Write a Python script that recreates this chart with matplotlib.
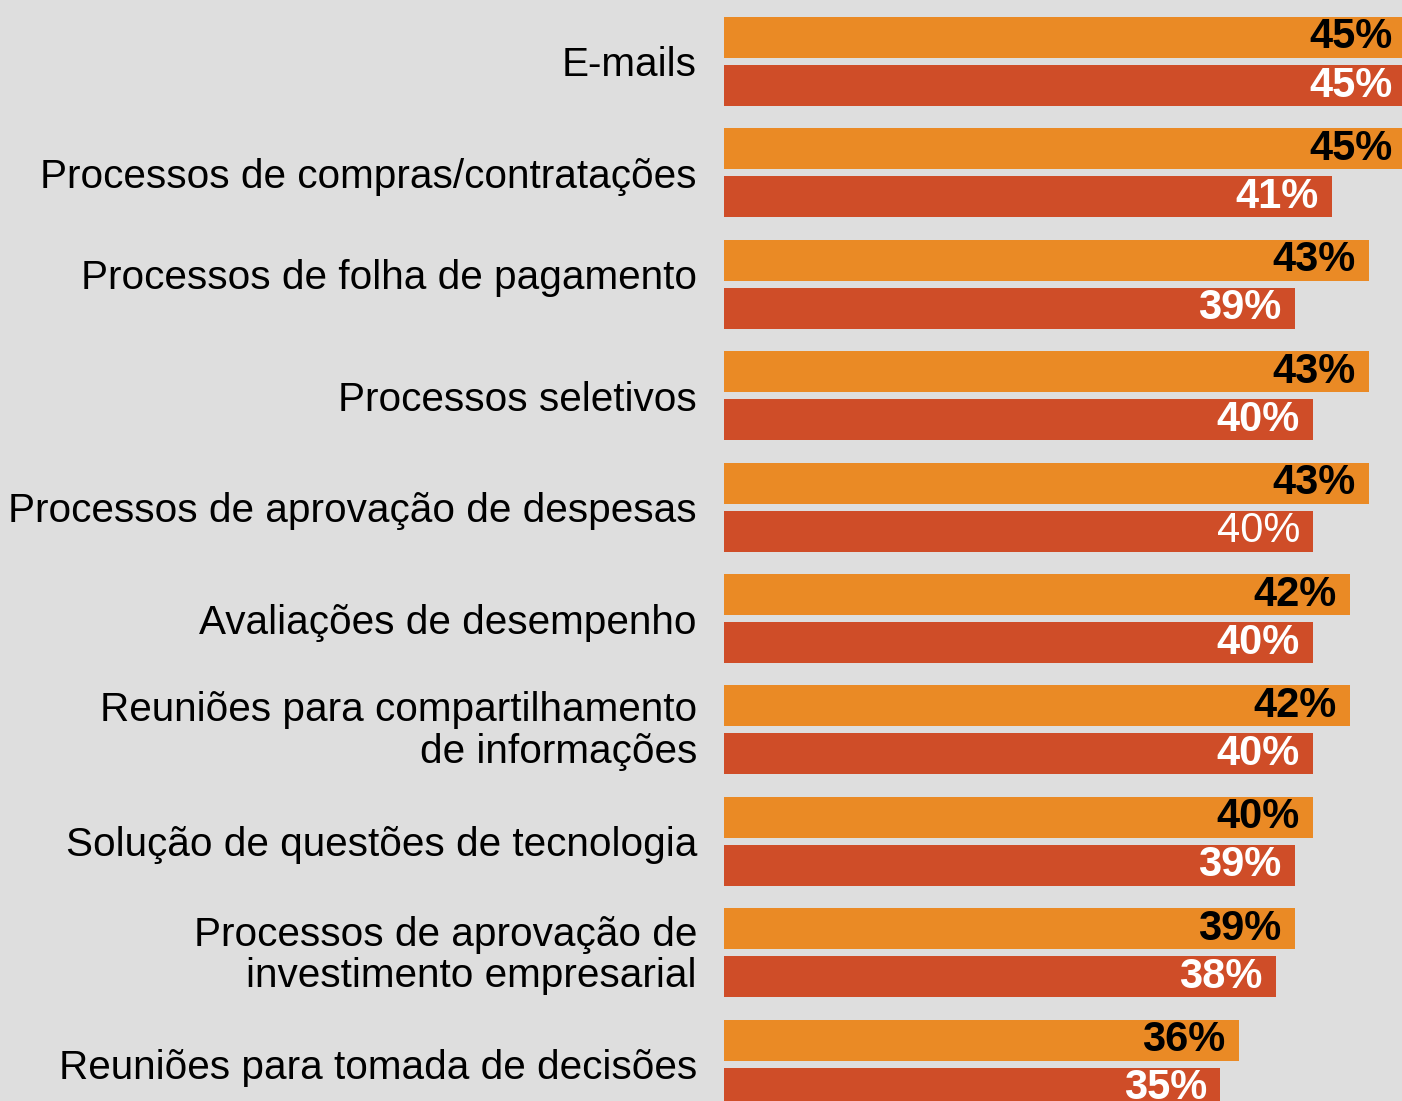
import numpy as np
import matplotlib.pyplot as plt
from matplotlib.transforms import ScaledTranslation

plt.rcParams['font.family'] = ['Liberation Sans', 'DejaVu Sans']

categories = [
    'E-mails',
    'Processos de compras/contratações',
    'Processos de folha de pagamento',
    'Processos seletivos',
    'Processos de aprovação de despesas',
    'Avaliações de desempenho',
    'Reuniões para compartilhamento\nde informações',
    'Solução de questões de tecnologia',
    'Processos de aprovação de\ninvestimento empresarial',
    'Reuniões para tomada de decisões',
]
serie_a = [45, 45, 43, 43, 43, 42, 42, 40, 39, 36]
serie_b = [45, 41, 39, 40, 40, 40, 40, 39, 38, 35]

bg = '#DEDEDE'
cor_a = '#EA8A25'
cor_b = '#CF4D28'

fig = plt.figure(figsize=(14.02, 11.01), dpi=100, facecolor=bg)
ax = fig.add_axes([724 / 1402, 0, 1 - 724 / 1402, 1])
ax.set_facecolor(bg)

y = np.arange(len(categories))
h = 0.368
off = 0.2155

ax.barh(y - off, serie_a, height=h, color=cor_a)
ax.barh(y + off, serie_b, height=h, color=cor_b)

for yi, va, vb in zip(y, serie_a, serie_b):
    ax.annotate(f'{va}%', (va, yi - off), xytext=(-9.5, 0), textcoords='offset points',
                ha='right', va='center', fontsize=30, fontweight='bold', color='black',
                annotation_clip=False)
    peso = 'normal' if yi == 4 else 'bold'
    ax.annotate(f'{vb}%', (vb, yi + off), xytext=(-9.5, 0), textcoords='offset points',
                ha='right', va='center', fontsize=30, fontweight=peso, color='white',
                annotation_clip=False)

ax.set_xlim(8.2, 44.8)
ax.set_ylim(9.331, -0.552)
ax.set_yticks(y)
ax.set_yticklabels(categories, fontsize=29.2, linespacing=1.12)
ax.tick_params(axis='y', length=0, pad=19.5)
ax.set_xticks([])
for s in ax.spines.values():
    s.set_visible(False)

# small vertical nudges for a few category labels (pixels, upwards)
nudge = {2: 10, 6: 5, 8: 3}
for i, lab in enumerate(ax.get_yticklabels()):
    if i in nudge:
        lab.set_transform(lab.get_transform() +
                          ScaledTranslation(0, nudge[i] / 100, fig.dpi_scale_trans))

fig.savefig('out.png', dpi=100, facecolor=bg)
